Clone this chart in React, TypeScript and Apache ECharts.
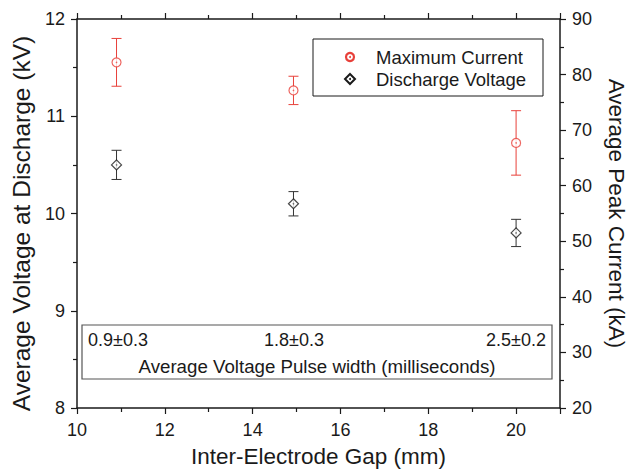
import React, { useEffect, useRef } from "react";
import * as echarts from "echarts";

const gapMm = [10.9, 14.93, 20.0];
const peakCurrent = [82.2, 77.15, 67.7];
const peakCurrentErr = [4.3, 2.55, 5.8];
const dischargeVoltage = [10.5, 10.1, 9.8];
const dischargeVoltageErr = [0.15, 0.125, 0.14];
const pulseWidthLabels = ["0.9±0.3", "1.8±0.3", "2.5±0.2"];
const pulseWidthTitle = "Average Voltage Pulse width (milliseconds)";
const seriesNames = ["Maximum Current", "Discharge Voltage"];

const FONT = "Liberation Sans";
const RED = "#e8403a";
const BLACK = "#1a1a1a";

function errorBar(color: string) {
  return (params: any, api: any) => {
    const x = api.value(0);
    const lo = api.value(1);
    const hi = api.value(2);
    const pHi = api.coord([x, hi]);
    const pLo = api.coord([x, lo]);
    const w = 5;
    const st = { stroke: color, lineWidth: 1 };
    return {
      type: "group",
      children: [
        { type: "line", shape: { x1: pHi[0], y1: pHi[1], x2: pLo[0], y2: pLo[1] }, style: st },
        { type: "line", shape: { x1: pHi[0] - w, y1: pHi[1], x2: pHi[0] + w, y2: pHi[1] }, style: st },
        { type: "line", shape: { x1: pLo[0] - w, y1: pLo[1], x2: pLo[0] + w, y2: pLo[1] }, style: st },
      ],
    };
  };
}

function txt(text: string, x: number, y: number, align: string, size = 18) {
  return {
    type: "text",
    x,
    y,
    z: 11,
    style: { text, fontSize: size, fontFamily: FONT, fill: BLACK, verticalAlign: "middle", align },
  };
}

export default function App() {
  const ref = useRef<HTMLDivElement>(null);
  useEffect(() => {
    const chart = echarts.init(ref.current!, null, { renderer: "svg" });
    const currentPts = gapMm.map((x, i) => [x, peakCurrent[i]]);
    const voltagePts = gapMm.map((x, i) => [x, dischargeVoltage[i]]);
    const currentErr = gapMm.map((x, i) => [x, peakCurrent[i] - peakCurrentErr[i], peakCurrent[i] + peakCurrentErr[i]]);
    const voltageErr = gapMm.map((x, i) => [x, dischargeVoltage[i] - dischargeVoltageErr[i], dischargeVoltage[i] + dischargeVoltageErr[i]]);

    const axisLine = { show: true, onZero: false, lineStyle: { color: BLACK, width: 1.5 } };
    const tickStyle = { color: BLACK, width: 1.2 };
    const labelStyle = { color: BLACK, fontSize: 18, fontFamily: FONT };

    chart.setOption({
      animation: false,
      textStyle: { fontFamily: FONT },
      grid: { left: 77, right: 68, top: 19, bottom: 61, containLabel: false, outerBoundsMode: "none" },
      xAxis: [
        {
          type: "value",
          min: 10,
          max: 21,
          interval: 2,
          position: "bottom",
          name: "Inter-Electrode Gap (mm)",
          nameLocation: "middle",
          nameGap: 37,
          nameTextStyle: { color: BLACK, fontSize: 22.5, fontFamily: FONT },
          axisLine,
          axisTick: { show: true, inside: false, length: 6, lineStyle: tickStyle },
          minorTick: { show: true, splitNumber: 2, length: 4, lineStyle: tickStyle },
          axisLabel: { ...labelStyle, margin: 13, showMaxLabel: false },
          splitLine: { show: false },
        },
        {
          type: "value",
          min: 10,
          max: 21,
          interval: 2,
          position: "top",
          axisLine,
          axisTick: { show: true, inside: false, length: 6, lineStyle: tickStyle },
          minorTick: { show: true, splitNumber: 2, length: 4, lineStyle: tickStyle },
          axisLabel: { show: false },
          splitLine: { show: false },
        },
      ],
      yAxis: [
        {
          type: "value",
          min: 8,
          max: 12,
          interval: 1,
          position: "left",
          name: "Average Voltage at Discharge (kV)",
          nameLocation: "middle",
          nameRotate: 90,
          nameGap: 36,
          nameTextStyle: { color: BLACK, fontSize: 24.5, fontFamily: FONT, padding: [0, 20, 0, 0] },
          axisLine,
          axisTick: { show: true, inside: false, length: 6, lineStyle: tickStyle },
          minorTick: { show: true, splitNumber: 2, length: 4, lineStyle: tickStyle },
          axisLabel: { ...labelStyle, margin: 12 },
          splitLine: { show: false },
        },
        {
          type: "value",
          min: 20,
          max: 90,
          interval: 10,
          position: "right",
          name: "Average Peak Current (kA)",
          nameLocation: "middle",
          nameRotate: -90,
          nameGap: 45,
          nameTextStyle: { color: BLACK, fontSize: 22.5, fontFamily: FONT },
          axisLine,
          axisTick: { show: true, inside: false, length: 6, lineStyle: tickStyle },
          minorTick: { show: true, splitNumber: 2, length: 4, lineStyle: tickStyle },
          axisLabel: { ...labelStyle, margin: 12 },
          splitLine: { show: false },
        },
      ],
      series: [
        {
          name: seriesNames[0] + " error",
          type: "custom",
          xAxisIndex: 0,
          yAxisIndex: 1,
          renderItem: errorBar(RED),
          encode: { x: 0, y: [1, 2] },
          data: currentErr,
          z: 2,
          silent: true,
        },
        {
          name: seriesNames[1] + " error",
          type: "custom",
          xAxisIndex: 0,
          yAxisIndex: 0,
          renderItem: errorBar("#333"),
          encode: { x: 0, y: [1, 2] },
          data: voltageErr,
          z: 2,
          silent: true,
        },
        {
          name: seriesNames[0],
          type: "scatter",
          xAxisIndex: 0,
          yAxisIndex: 1,
          symbol: "circle",
          symbolSize: 9,
          itemStyle: { color: "#fff", borderColor: RED, borderWidth: 1.2 },
          data: currentPts,
          z: 3,
        },
        {
          name: seriesNames[0] + " dot",
          type: "scatter",
          xAxisIndex: 0,
          yAxisIndex: 1,
          symbol: "circle",
          symbolSize: 1.6,
          itemStyle: { color: RED },
          data: currentPts,
          z: 4,
          silent: true,
        },
        {
          name: seriesNames[1],
          type: "scatter",
          xAxisIndex: 0,
          yAxisIndex: 0,
          symbol: "diamond",
          symbolSize: [10, 10],
          itemStyle: { color: "#fff", borderColor: BLACK, borderWidth: 1.2 },
          data: voltagePts,
          z: 3,
        },
        {
          name: seriesNames[1] + " dot",
          type: "scatter",
          xAxisIndex: 0,
          yAxisIndex: 0,
          symbol: "circle",
          symbolSize: 1.6,
          itemStyle: { color: "#555" },
          data: voltagePts,
          z: 4,
          silent: true,
        },
      ],
      graphic: [
        { type: "rect", shape: { x: 313, y: 39, width: 230, height: 57 }, style: { fill: "#fff", stroke: BLACK, lineWidth: 1 }, z: 10 },
        { type: "circle", shape: { cx: 350, cy: 57, r: 4 }, style: { fill: "#fff", stroke: RED, lineWidth: 2.2 }, z: 11 },
        { type: "circle", shape: { cx: 350, cy: 57, r: 1 }, style: { fill: RED }, z: 12 },
        { type: "polygon", shape: { points: [[350, 74], [355, 79], [350, 84], [345, 79]] }, style: { fill: "#fff", stroke: BLACK, lineWidth: 2 }, z: 11 },
        { type: "circle", shape: { cx: 350, cy: 79, r: 1 }, style: { fill: BLACK }, z: 12 },
        txt(seriesNames[0], 376, 57, "left", 18.5),
        txt(seriesNames[1], 376, 79, "left", 18.5),
        { type: "rect", shape: { x: 82, y: 325, width: 470, height: 54 }, style: { fill: "none", stroke: "#555", lineWidth: 1.2 }, z: 10 },
        txt(pulseWidthLabels[0], 88, 340, "left"),
        txt(pulseWidthLabels[1], 294, 340, "center"),
        txt(pulseWidthLabels[2], 546, 340, "right"),
        txt(pulseWidthTitle, 317, 366, "center", 18.7),
      ],
    });
    return () => chart.dispose();
  }, []);
  return <div ref={ref} style={{ position: "fixed", left: 0, top: 0, width: 628, height: 469, background: "#fff" }} />;
}
